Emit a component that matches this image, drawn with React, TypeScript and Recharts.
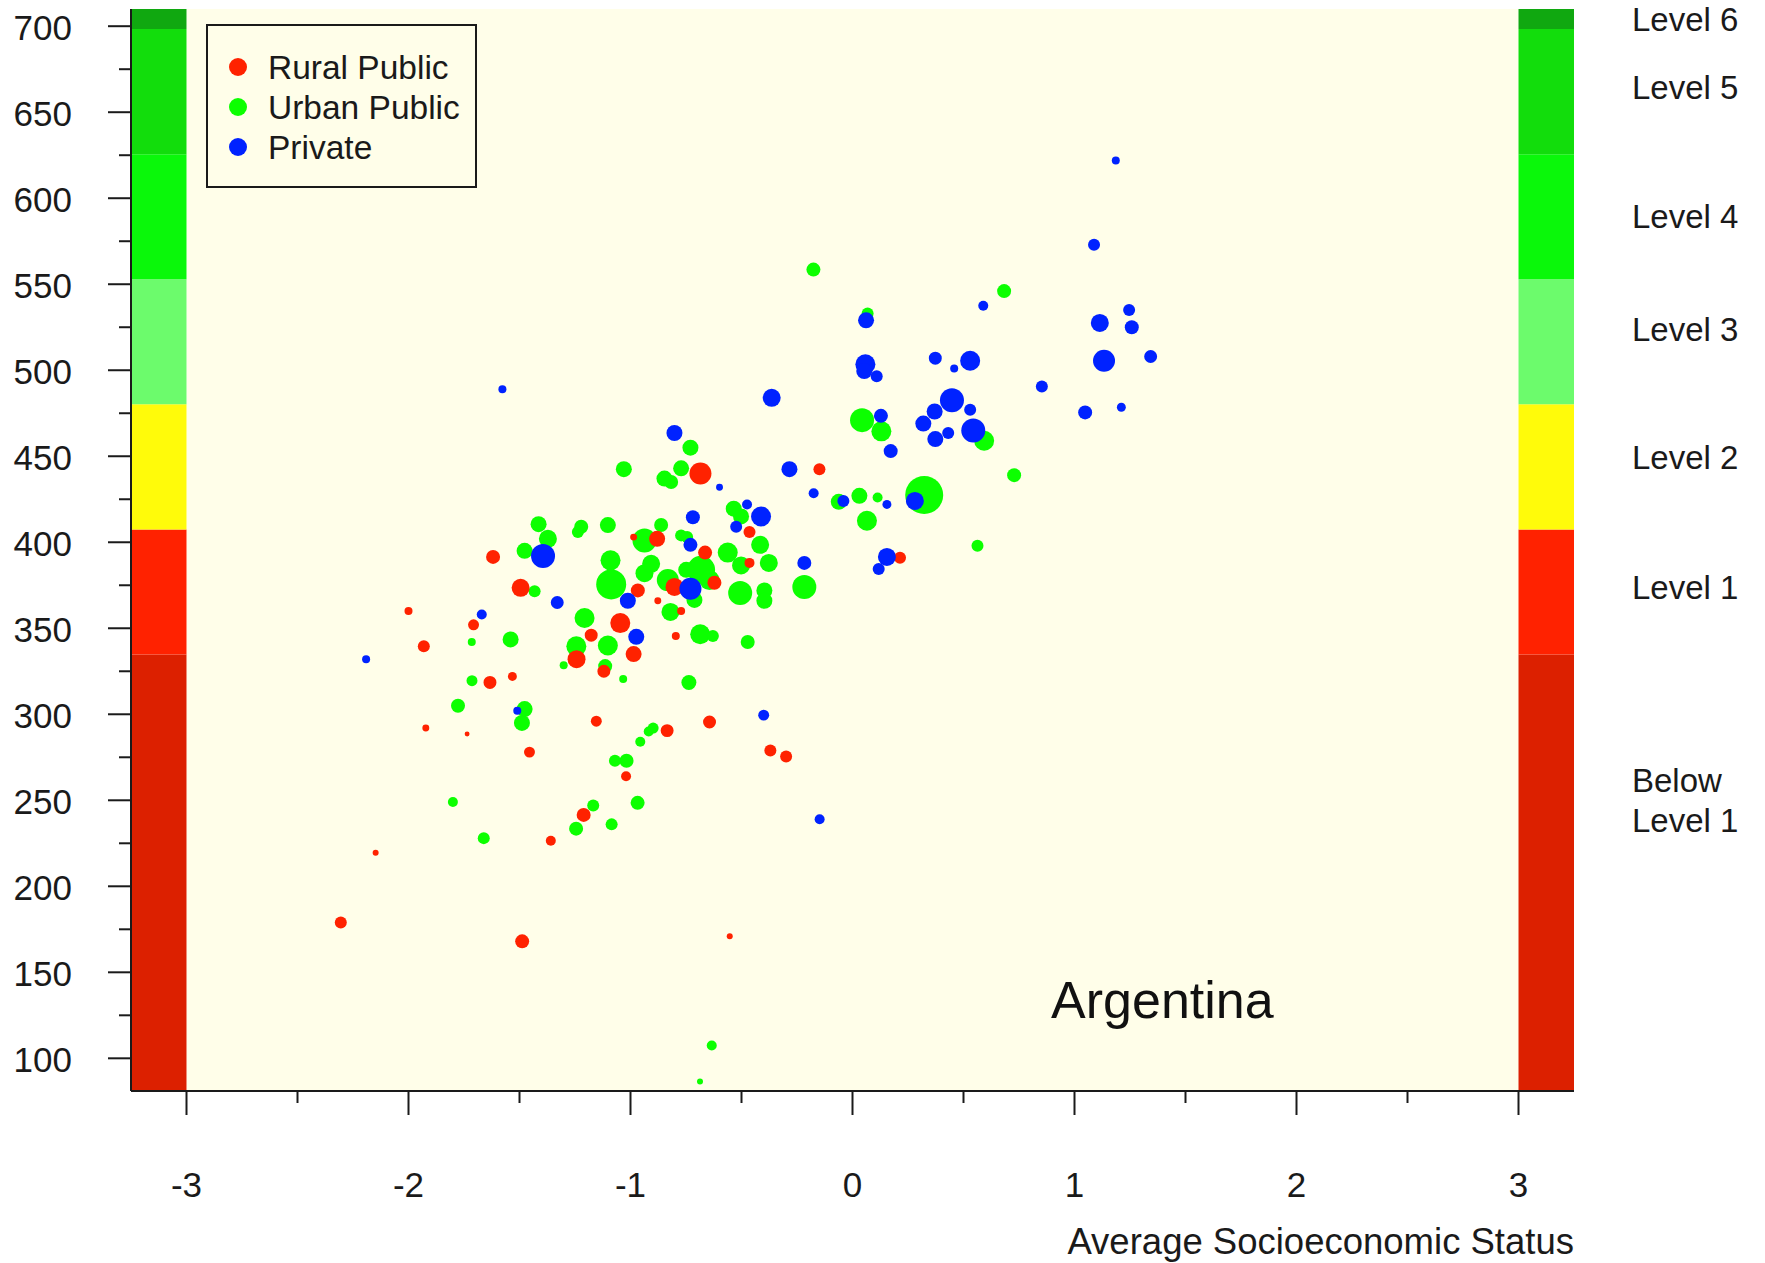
import React from 'react';
import {
  ScatterChart, Scatter, XAxis, YAxis, ZAxis, ReferenceArea, ReferenceLine,
  ReferenceDot, Legend,
} from 'recharts';

// [SES, score, weight]
const ruralPublic: [number, number, number][] = [
  [-0.685, 440, 121], [-0.149, 442.5, 36], [-0.464, 406, 36], [-0.986, 403, 12],
  [-0.88, 402, 64], [-1.619, 391.5, 49], [-0.664, 394, 49], [0.214, 391, 36],
  [-0.464, 388, 25], [-1.495, 373.5, 81], [-0.802, 374, 81], [-0.622, 376.5, 49],
  [-0.967, 372, 49], [-0.877, 366, 12], [-0.772, 360, 16], [-2.0, 360, 16],
  [-1.707, 352, 30], [-1.046, 353, 100], [-1.177, 346, 42], [-0.796, 345.5, 16],
  [-1.931, 339.5, 36], [-1.243, 332, 81], [-0.986, 335, 64], [-1.12, 325, 42],
  [-1.633, 318.5, 42], [-1.532, 322, 20], [-1.922, 292, 12], [-1.736, 288.5, 6],
  [-1.154, 296, 30], [-0.835, 290.5, 42], [-0.644, 295.5, 42], [-1.455, 278, 30],
  [-0.37, 279, 36], [-0.299, 275.5, 36], [-1.02, 264, 25], [-1.211, 241.5, 49],
  [-1.359, 226.5, 25], [-2.148, 219.5, 9], [-2.305, 179, 36], [-1.488, 168, 49],
  [-0.553, 171, 9],
];

const urbanPublic: [number, number, number][] = [
  [-0.176, 558.5, 49], [0.683, 546, 49], [0.068, 533, 36], [0.593, 459, 100],
  [0.043, 471, 144], [0.13, 464.5, 100], [0.728, 439, 49], [-0.062, 423.5, 64],
  [0.031, 427, 64], [0.113, 426, 25], [0.323, 427.5, 361], [0.065, 412.5, 100],
  [0.563, 398, 36], [-0.217, 374, 144], [-0.416, 398.5, 81], [-0.377, 388, 81],
  [-0.397, 372, 64], [-0.397, 366, 64], [-0.73, 455, 64], [-1.03, 442.5, 64],
  [-0.772, 443, 64], [-0.847, 437, 64], [-0.817, 435, 49], [-0.535, 419.5, 64],
  [-0.502, 415, 64], [-1.414, 410.5, 64], [-1.372, 402, 81], [-1.477, 395, 64],
  [-1.222, 409, 49], [-1.237, 406, 36], [-1.102, 410, 64], [-0.937, 401, 144],
  [-0.862, 410, 49], [-0.772, 404, 36], [-0.745, 403, 36], [-1.432, 371.5, 36],
  [-1.09, 389.5, 100], [-1.087, 375.5, 225], [-0.937, 382, 81], [-0.907, 387.5, 81],
  [-0.832, 378, 121], [-0.682, 384, 196], [-0.749, 384, 64], [-0.644, 378, 100],
  [-0.712, 366.5, 64], [-0.562, 394, 100], [-0.502, 386.5, 81], [-0.506, 370.5, 144],
  [-0.82, 359.5, 81], [-1.207, 356, 100], [-0.686, 346.5, 100], [-0.629, 345.5, 36],
  [-0.472, 342, 49], [-1.715, 342, 16], [-1.54, 343.5, 64], [-1.244, 339.5, 100],
  [-1.102, 340, 100], [-1.301, 328.5, 16], [-1.114, 328, 49], [-1.033, 320.5, 16],
  [-0.737, 318.5, 56], [-1.714, 319.5, 30], [-1.777, 305, 49], [-1.477, 303, 64],
  [-1.489, 295, 64], [-0.898, 292, 30], [-0.918, 290, 25], [-0.956, 284, 25],
  [-1.018, 273, 49], [-1.07, 273, 36], [-1.8, 249, 25], [-0.968, 248.5, 49],
  [-1.168, 247, 36], [-1.245, 233.5, 49], [-1.085, 236, 36], [-1.661, 228, 36],
  [-0.634, 107.5, 25], [-0.687, 86.5, 9],
];

const privateSchools: [number, number, number][] = [
  [1.186, 622, 16], [1.088, 573, 36], [0.589, 537.5, 25], [1.246, 535, 36],
  [1.114, 527.5, 81], [1.258, 525, 49], [0.061, 529, 64], [1.343, 508, 42],
  [1.133, 505.5, 121], [0.373, 507, 42], [0.458, 501, 16], [0.53, 505.5, 100],
  [0.058, 503.5, 100], [0.053, 499.5, 64], [0.109, 496.5, 36], [0.853, 490.5, 36],
  [-0.364, 484, 81], [1.048, 475.5, 49], [1.211, 478.5, 20], [0.448, 482.5, 144],
  [0.37, 476, 64], [0.53, 477, 36], [0.319, 469, 64], [0.373, 460, 64],
  [0.431, 463.5, 36], [0.544, 465, 144], [0.128, 473.5, 49], [0.172, 453, 49],
  [-0.284, 442.5, 64], [-0.175, 428.5, 25], [-0.041, 424, 36], [0.155, 422, 20],
  [0.281, 424, 81], [0.155, 391.5, 81], [0.118, 384.5, 36], [-0.217, 388, 49],
  [-0.412, 415, 100], [-1.577, 489, 16], [-0.802, 463.5, 64], [-0.599, 432, 12],
  [-0.475, 422, 25], [-0.524, 409, 36], [-0.719, 414.5, 49], [-0.73, 398.5, 49],
  [-1.394, 392, 144], [-1.33, 365, 42], [-0.73, 373, 121], [-1.012, 366, 64],
  [-0.974, 345, 64], [-1.67, 358, 25], [-2.191, 332, 16], [-1.51, 302, 16],
  [-0.4, 299.5, 30], [-0.148, 239, 25],
];

const seriesNames = ['Rural Public', 'Urban Public', 'Private'];
const seriesColors = ['#FF2200', '#0CFF00', '#0022FF'];

const xDomain = [-3.25, 3.25];
const yDomain = [81, 710];
const xTicks = [-3, -2.5, -2, -1.5, -1, -0.5, 0, 0.5, 1, 1.5, 2, 2.5, 3];
const yTicks = [100, 125, 150, 175, 200, 225, 250, 275, 300, 325, 350, 375, 400, 425,
  450, 475, 500, 525, 550, 575, 600, 625, 650, 675, 700];

// proficiency level cut scores (bottom of band), top of axis closes the last one
const levelCuts = [81, 334.75, 407.47, 480.18, 552.89, 625.61, 698.32, 710];
const levelColors = ['#DC2000', '#FF2200', '#FFFB0A', '#6CFB6C', '#0AF80A', '#12DD0C', '#10A810'];
const levelNames = ['Below\nLevel 1', 'Level 1', 'Level 2', 'Level 3', 'Level 4', 'Level 5', 'Level 6'];
const levelLabelScores = [250, 374, 449.5, 524, 589.5, 664.5, 704];

const country = 'Argentina';
const countryAt = { x: 1.396, y: 134 };

const INK = '#1a1a1a';
const BG = '#FFFEE9';
const FONT = '"Liberation Sans", Arial, Helvetica, sans-serif';

const toPoints = (rows: [number, number, number][]) => rows.map(([x, y, w]) => ({ x, y, w }));

function XTick({ x, y, payload }: any) {
  const major = Number.isInteger(payload.value);
  return (
    <g>
      <line x1={x} x2={x} y1={y} y2={y + (major ? 24 : 12)} stroke={INK} strokeWidth={2} />
      {major && (
        <text x={x} y={y + 106} textAnchor="middle" fontSize={35} fill={INK}>{payload.value}</text>
      )}
    </g>
  );
}

function YTick({ x, y, payload }: any) {
  const major = payload.value % 50 === 0;
  return (
    <g>
      <line x1={x - (major ? 23 : 12)} x2={x} y1={y} y2={y} stroke={INK} strokeWidth={2} />
      {major && (
        <text x={x - 59} y={y + 14} textAnchor="end" fontSize={35} fill={INK}>{payload.value}</text>
      )}
    </g>
  );
}

const levelLabel = (name: string) => (props: any) => {
  const vb = props.viewBox;
  const lines = name.split('\n');
  const lh = 40;
  const x = vb.x + vb.width + 58;
  const y0 = vb.y - ((lines.length - 1) * lh) / 2 + 12;
  return (
    <text x={x} y={y0} fontSize={33} fill={INK}>
      {lines.map((l, i) => (
        <tspan key={l} x={x} y={y0 + i * lh}>{l}</tspan>
      ))}
    </text>
  );
};

function LegendBox({ payload }: any) {
  const items = seriesNames
    .map((n) => (payload || []).find((p: any) => p.value === n))
    .filter(Boolean);
  return (
    <svg width={271} height={164} style={{ display: 'block', fontFamily: FONT }}>
      <rect x={1} y={1} width={269} height={162} fill={BG} stroke={INK} strokeWidth={2} />
      {items.map((it: any, i: number) => (
        <g key={it.value}>
          <circle cx={32} cy={43 + i * 40} r={9} fill={it.color} />
          <text x={62} y={55 + i * 40} fontSize={33.5} fill={INK}>{it.value}</text>
        </g>
      ))}
    </svg>
  );
}

export default function App() {
  const bands = levelColors.map((c, i) => ({ c, lo: levelCuts[i], hi: levelCuts[i + 1] }));
  const draw = [
    { name: seriesNames[1], color: seriesColors[1], rows: urbanPublic },
    { name: seriesNames[0], color: seriesColors[0], rows: ruralPublic },
    { name: seriesNames[2], color: seriesColors[2], rows: privateSchools },
  ];

  return (
    <div style={{ position: 'absolute', left: 0, top: 0, width: 1765, height: 1263, background: '#fff', fontFamily: FONT }}>
      <ScatterChart width={1765} height={1263} margin={{ top: 9, right: 191, bottom: 9, left: 0 }}>
        <XAxis
          type="number"
          dataKey="x"
          domain={xDomain}
          ticks={xTicks}
          interval={0}
          allowDataOverflow
          height={163}
          tickSize={0}
          tickMargin={0}
          tickLine={false}
          axisLine={{ stroke: INK, strokeWidth: 2 }}
          tick={<XTick />}
          label={{
            value: 'Average Socioeconomic Status',
            position: 'insideBottomRight',
            offset: 0,
            fontSize: 36.5,
            fill: INK,
          }}
        />
        <YAxis
          type="number"
          dataKey="y"
          domain={yDomain}
          ticks={yTicks}
          interval={0}
          allowDataOverflow
          width={131}
          tickSize={0}
          tickMargin={0}
          tickLine={false}
          axisLine={{ stroke: INK, strokeWidth: 2 }}
          tick={<YTick />}
        />
        <ZAxis type="number" dataKey="w" domain={[0, 400]} range={[0, 400 * Math.PI]} />

        <ReferenceArea x1={-3} x2={3} fill={BG} fillOpacity={1} stroke="none" />
        {bands.map((b) => (
          <ReferenceArea key={`l${b.lo}`} x1={-3.25} x2={-3} y1={b.lo} y2={b.hi} fill={b.c} fillOpacity={1} stroke="none" />
        ))}
        {bands.map((b) => (
          <ReferenceArea key={`r${b.lo}`} x1={3} x2={3.25} y1={b.lo} y2={b.hi} fill={b.c} fillOpacity={1} stroke="none" />
        ))}
        {levelNames.map((n, i) => (
          <ReferenceLine key={n} y={levelLabelScores[i]} stroke="none" label={levelLabel(n)} />
        ))}

        <Legend
          layout="horizontal"
          verticalAlign="middle"
          align="center"
          content={<LegendBox />}
          wrapperStyle={{ left: 206, top: 24, width: 271, height: 164 }}
        />

        {draw.map((s) => (
          <Scatter
            key={s.name}
            name={s.name}
            data={toPoints(s.rows)}
            fill={s.color}
            isAnimationActive={false}
          />
        ))}

        <ReferenceDot
          x={countryAt.x}
          y={countryAt.y}
          r={0}
          fill="none"
          stroke="none"
          label={{ value: country, position: 'center', fontSize: 52, fill: '#111' }}
        />
      </ScatterChart>
    </div>
  );
}
